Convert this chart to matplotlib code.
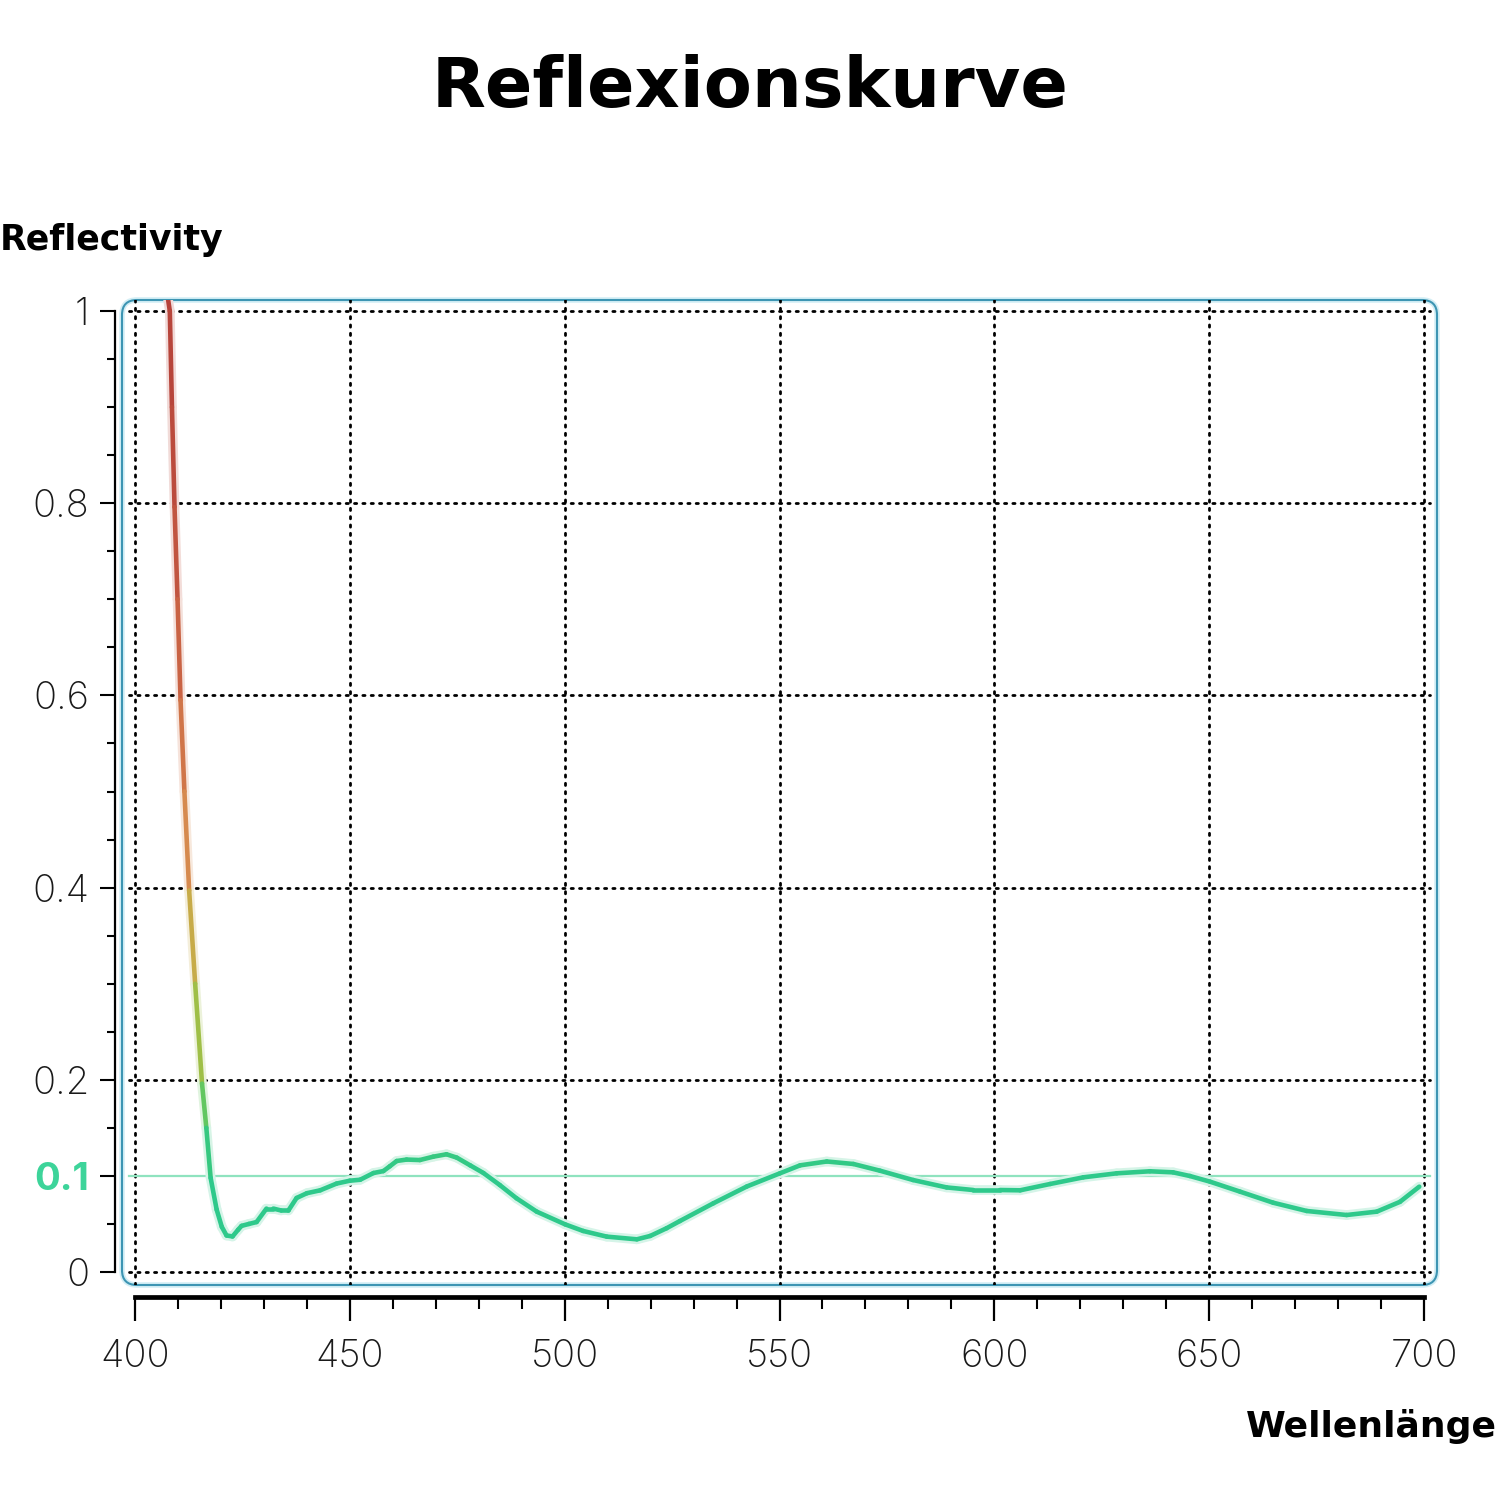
import numpy as np
import matplotlib
matplotlib.use("Agg")
import matplotlib.pyplot as plt
from matplotlib.collections import LineCollection
from matplotlib.colors import LinearSegmentedColormap, Normalize
from matplotlib.patches import FancyBboxPatch

plt.rcParams['font.family'] = ['Inter', 'DejaVu Sans']

# ---------------- data ----------------
wavelength = [407.7, 408.1, 408.6, 409.2, 409.9, 410.6, 411.5, 412.6, 414.0, 415.6,
              416.6, 417.6, 419.0, 420.2, 421.3, 422.7, 424.0, 424.8, 426.5, 428.3,
              430.6, 432.2, 434.0, 435.7, 437.6, 440.0, 443.1, 446.9,
              450.0, 452.4, 455.5, 457.8, 459.3, 460.9, 463.2, 466.3, 469.4, 472.5,
              474.9, 478.0, 481.1, 484.9, 488.8, 493.5, 500.1, 504.3, 509.8, 516.8,
              519.9, 523.7, 526.8, 534.6, 542.4, 550.1, 554.8, 561.0, 567.2, 573.4,
              581.1, 588.9, 595.1, 601.3, 606.0, 613.0, 620.7, 628.5, 636.2, 641.6,
              645.5, 650.2, 657.2, 664.9, 672.7, 682.0, 689.0, 694.4, 698.9]
reflectivity = [1.012, 1.000, 0.900, 0.796, 0.700, 0.595, 0.500, 0.397, 0.300, 0.196,
                0.150, 0.098, 0.065, 0.047, 0.038, 0.037, 0.044, 0.048, 0.050, 0.052,
                0.066, 0.066, 0.064, 0.064, 0.077, 0.082, 0.085, 0.092,
                0.095, 0.096, 0.103, 0.105, 0.110, 0.1155, 0.117, 0.1165, 0.120, 0.1225,
                0.119, 0.111, 0.103, 0.0905, 0.0767, 0.0628, 0.0496, 0.0427, 0.0368, 0.034,
                0.0375, 0.0455, 0.053, 0.0715, 0.089, 0.1027, 0.111, 0.115, 0.1124, 0.1054,
                0.0957, 0.088, 0.0853, 0.0853, 0.085, 0.0916, 0.0985, 0.1027, 0.1048, 0.1037,
                0.0999, 0.094, 0.0836, 0.0721, 0.0635, 0.0593, 0.0628, 0.073, 0.0888]

x_major = [400, 450, 500, 550, 600, 650, 700]
x_minor = list(range(400, 701, 10))
y_major = [0, 0.1, 0.2, 0.4, 0.6, 0.8, 1]
y_labels = ['0', '0.1', '0.2', '0.4', '0.6', '0.8', '1']
y_minor = [round(0.05 * i, 2) for i in range(21)]
y_grid = [0, 0.2, 0.4, 0.6, 0.8, 1.0]
x_grid = x_major
threshold = 0.1

title = 'Reflexionskurve'
ylabel = 'Reflectivity'
xlabel = 'Wellenlänge'

# ---------------- figure ----------------
fig = plt.figure(figsize=(15, 15), dpi=100)
fig.patch.set_facecolor('white')
ax = fig.add_axes([122 / 1500, 1 - 1285 / 1500, 1315 / 1500, 985 / 1500])
ax.set_facecolor('none')

sx = 1289 / 300.0
sy = 961.0
ax.set_xlim(400 - 13 / sx, 700 + 13 / sx)
ax.set_ylim(-13 / sy, 1 + 11 / sy)

# rounded frame
frame = FancyBboxPatch((0, 0), 1, 1, boxstyle='round,pad=0,rounding_size=0.0114',
                       mutation_aspect=1315 / 985, transform=ax.transAxes,
                       facecolor='none', edgecolor='#d3eef5', linewidth=4.0,
                       clip_on=False, zorder=1)
ax.add_patch(frame)
frame2 = FancyBboxPatch((0, 0), 1, 1, boxstyle='round,pad=0,rounding_size=0.0114',
                        mutation_aspect=1315 / 985, transform=ax.transAxes,
                        facecolor='none', edgecolor='#3d95b3', linewidth=1.5,
                        clip_on=False, zorder=1.1)
ax.add_patch(frame2)

# grid (dotted)
for gx in x_grid:
    ax.axvline(gx, color='black', linewidth=2.0, linestyle=(0, (0.8, 2.2)),
               dash_capstyle='round', zorder=2)
for gy in y_grid:
    ax.axhline(gy, color='black', linewidth=2.0, linestyle=(0, (0.8, 2.2)),
               dash_capstyle='round', zorder=2, xmin=0.005, xmax=0.995)

# threshold line
ax.axhline(threshold, color='#8fe3bf', linewidth=1.6, zorder=2.5, xmin=0.005, xmax=0.995)

# gradient-colored curve
cmap = LinearSegmentedColormap.from_list('refl', [
    (0.0, (46 / 255, 201 / 255, 139 / 255)),
    (0.04, (60 / 255, 200 / 255, 120 / 255)),
    (0.12, (140 / 255, 198 / 255, 72 / 255)),
    (0.25, (196 / 255, 178 / 255, 70 / 255)),
    (0.38, (214 / 255, 140 / 255, 78 / 255)),
    (0.56, (205 / 255, 105 / 255, 70 / 255)),
    (0.78, (188 / 255, 78 / 255, 62 / 255)),
    (1.0, (182 / 255, 66 / 255, 58 / 255)),
])
norm = Normalize(vmin=0.1, vmax=1.0)
xs = np.array(wavelength)
ys = np.array(reflectivity)
pts = np.column_stack([xs, ys]).reshape(-1, 1, 2)
segs = np.concatenate([pts[:-1], pts[1:]], axis=1)
mid = (ys[:-1] + ys[1:]) / 2
cols = cmap(norm(np.clip(mid, 0.1, 1.0)))
glow = cols.copy()
glow[:, :3] = 0.8 * 1.0 + 0.2 * cols[:, :3]
glow[:, 3] = 1.0
ax.add_collection(LineCollection(segs, colors=glow, linewidths=7, capstyle='round',
                                 joinstyle='round', zorder=3))
ax.add_collection(LineCollection(segs, colors=cols, linewidths=3.3, capstyle='round',
                                 joinstyle='round', zorder=4))

# spines
for s in ['top', 'right']:
    ax.spines[s].set_visible(False)
ax.spines['left'].set_position(('outward', 7 * 0.72))
ax.spines['left'].set_bounds(0, 1)
ax.spines['left'].set_linewidth(1.6)
ax.spines['bottom'].set_position(('outward', 12 * 0.72))
ax.spines['bottom'].set_bounds(400, 700)
ax.spines['bottom'].set_linewidth(3.4)

ax.set_xticks(x_major)
ax.set_xticks(x_minor, minor=True)
ax.set_yticks(y_major)
ax.set_yticklabels(y_labels)
ax.set_yticks(y_minor, minor=True)

ax.tick_params(axis='x', which='major', length=17, width=1.6, pad=13,
               labelsize=27.5, direction='out')
ax.tick_params(axis='x', which='minor', length=8.5, width=1.5, direction='out')
ax.tick_params(axis='y', which='major', length=10.5, width=1.5, pad=8,
               labelsize=27.5, direction='out')
ax.tick_params(axis='y', which='minor', length=5.5, width=1.5, direction='out')
for lab in ax.get_xticklabels() + ax.get_yticklabels():
    lab.set_fontweight('light')
    lab.set_color('#1a1a1a')
for lab in ax.get_yticklabels():
    if lab.get_text() == '0.1':
        lab.set_color('#3dd49a')
        lab.set_fontweight('bold')

# texts
bold_family = ['DejaVu Sans']
fig.text(0.5, 1 - 88 / 1500, title, ha='center', va='center', fontsize=50.5,
         fontweight='bold', color='black', family=bold_family)
fig.text(0 / 1500, 1 - 250 / 1500, ylabel, ha='left', va='baseline', fontsize=25,
         fontweight='bold', color='black', family=bold_family)
fig.text(1497 / 1500, 1 - 1437 / 1500, xlabel, ha='right', va='baseline', fontsize=26,
         fontweight='bold', color='black', family=bold_family)

fig.savefig('out.png', dpi=100, facecolor='white')
